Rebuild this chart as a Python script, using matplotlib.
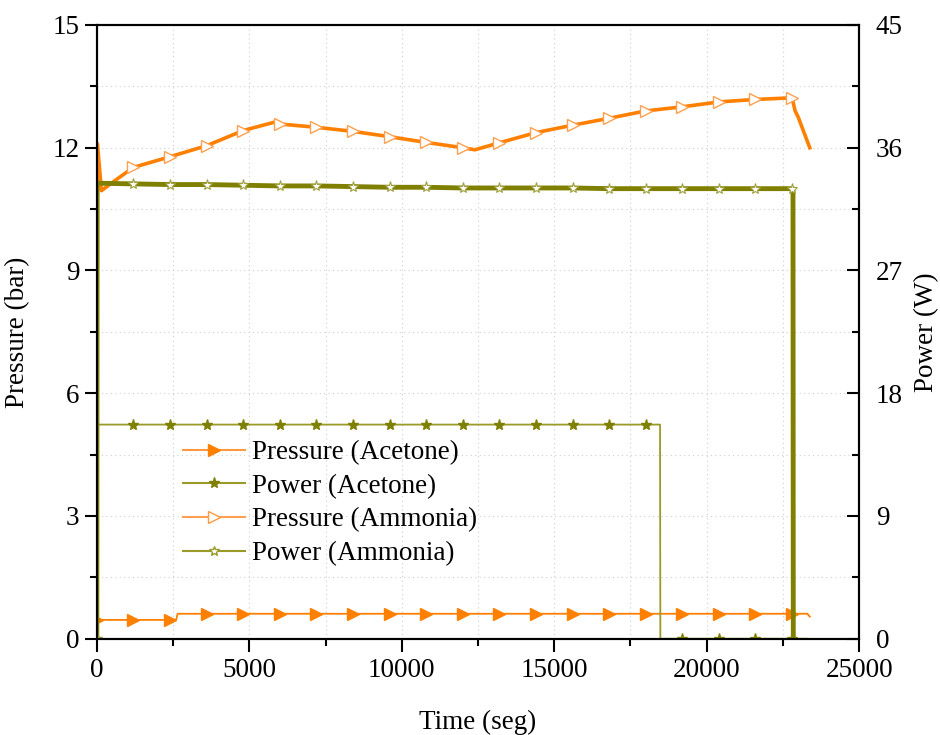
import matplotlib
matplotlib.use("Agg")
import matplotlib.pyplot as plt
from matplotlib.lines import Line2D
from matplotlib.ticker import MultipleLocator

plt.rcParams["font.family"] = ["Liberation Serif", "DejaVu Serif"]
plt.rcParams["font.size"] = 19.5

ORANGE = "#FF8000"
OLIVE = "#808000"

# Pressure (Acetone), bar
t_p_acetone = [0, 1200, 2400, 2600, 2650, 3600, 4800, 6000, 7200, 8400, 9600, 10800,
               12000, 13200, 14400, 15600, 16800, 18000, 19200, 20400, 21600, 22800,
               23300, 23380]
p_acetone = [0.46, 0.46, 0.46, 0.46, 0.61, 0.61, 0.61, 0.61, 0.61, 0.61, 0.61, 0.61,
             0.61, 0.61, 0.61, 0.61, 0.61, 0.61, 0.61, 0.61, 0.61, 0.61,
             0.61, 0.54]

# Pressure (Ammonia), bar
t_p_ammonia = [0, 20, 150, 600, 1200, 2400, 3600, 4800, 5800, 6000, 7200, 8400, 9600,
               10800, 12000, 12400, 13200, 14400, 15600, 16800, 18000, 19200, 20400,
               21600, 22800, 22900, 23000, 23380]
p_ammonia = [0.0, 12.1, 10.95, 11.2, 11.52, 11.78, 12.05, 12.42, 12.62, 12.58, 12.5,
             12.4, 12.27, 12.13, 12.0, 11.95, 12.12, 12.37, 12.55, 12.72, 12.9, 13.0,
             13.12, 13.18, 13.22, 12.9, 12.75, 12.0]

# Power (Acetone), W
t_w_acetone = [0, 10, 1200, 2400, 3600, 4800, 6000, 7200, 8400, 9600, 10800, 12000,
               13200, 14400, 15600, 16800, 18000, 18470, 18480, 19200, 20400, 21600,
               22800, 23300]
w_acetone = [0.0, 15.7, 15.7, 15.7, 15.7, 15.7, 15.7, 15.7, 15.7, 15.7, 15.7, 15.7,
             15.7, 15.7, 15.7, 15.7, 15.7, 15.7, 0.0, 0.0, 0.0, 0.0,
             0.0, 0.0]

# Power (Ammonia), W
t_w_ammonia = [0, 10, 1200, 2400, 3600, 4800, 6000, 7200, 8400, 9600, 10800, 12000,
               13200, 14400, 15600, 16800, 18000, 19200, 20400, 21600, 22800, 22830,
               22840]
w_ammonia = [0.0, 33.4, 33.35, 33.3, 33.3, 33.25, 33.2, 33.2, 33.15, 33.1, 33.1, 33.05,
             33.05, 33.05, 33.05, 33.0, 33.0, 33.0, 33.0, 33.0, 33.0, 33.0,
             0.0]

labels = ["Pressure (Acetone)", "Power (Acetone)", "Pressure (Ammonia)", "Power (Ammonia)"]


def marker_idx(times, step=1200):
    return [i for i, t in enumerate(times) if t % step == 0]


fig = plt.figure(figsize=(9.4, 7.35), dpi=100)
ax = fig.add_axes([0.103, 0.131, 0.811, 0.835])
ax2 = ax.twinx()

ax.plot(t_p_acetone, p_acetone, color=ORANGE, lw=1.3, marker=">", ms=9,
        mfc=ORANGE, mec=ORANGE, markevery=marker_idx(t_p_acetone))
ax.plot(t_p_ammonia, p_ammonia, color=ORANGE, lw=2.6, marker=">", ms=9,
        mfc="white", mec="#FFA050", mew=1.0, markevery=marker_idx(t_p_ammonia))
ax2.plot(t_w_acetone, w_acetone, color="#9A9A28", lw=1.3, marker="*", ms=8,
         mfc=OLIVE, mec=OLIVE, markevery=marker_idx(t_w_acetone))
ax2.plot(t_w_ammonia, w_ammonia, color=OLIVE, lw=3.5, marker="*", ms=8,
         mfc="white", mec="#A0A040", mew=0.8, markevery=marker_idx(t_w_ammonia))

ax.set_xlim(0, 25000)
ax.set_ylim(0, 15)
ax2.set_ylim(0, 45)

ax.xaxis.set_major_locator(MultipleLocator(5000))
ax.xaxis.set_minor_locator(MultipleLocator(2500))
ax.yaxis.set_major_locator(MultipleLocator(3))
ax.yaxis.set_minor_locator(MultipleLocator(1.5))
ax2.yaxis.set_major_locator(MultipleLocator(9))
ax2.yaxis.set_minor_locator(MultipleLocator(4.5))

ax.grid(which="both", linestyle=(0, (1, 3)), color="#cfcfcf", lw=0.8)
ax.set_axisbelow(True)

ax.tick_params(axis="both", which="major", direction="out", length=9, width=1.5,
               labelsize=19.5)
ax.tick_params(axis="both", which="minor", direction="out", length=5, width=1.5)
ax.tick_params(axis="x", which="major", pad=5)
ax2.tick_params(axis="y", which="major", direction="in", length=9, width=1.5,
                labelsize=19.5, pad=12)
ax2.tick_params(axis="y", which="minor", direction="in", length=5, width=1.5)

for a in (ax, ax2):
    for s in a.spines.values():
        s.set_linewidth(1.5)

ax.set_xlabel("Time (seg)", fontsize=19.5, labelpad=19)
ax.set_ylabel("Pressure (bar)", fontsize=19.5, labelpad=16)
ax2.set_ylabel("Power (W)", fontsize=19.5, rotation=90, labelpad=8)

# thin proxy handles for the legend
handles = [
    Line2D([], [], color="#FF9A40", lw=1.5, marker=">", ms=9, mfc=ORANGE, mec=ORANGE),
    Line2D([], [], color="#9A9A28", lw=1.5, marker="*", ms=8, mfc=OLIVE, mec=OLIVE),
    Line2D([], [], color="#FFA050", lw=1.5, marker=">", ms=9, mfc="white", mec="#FF9A40"),
    Line2D([], [], color="#9A9A28", lw=1.5, marker="*", ms=7, mfc="white", mec="#9A9A28"),
]
ax2.legend(handles, labels, loc="upper left", bbox_to_anchor=(183 / 940, 1 - 440 / 735),
           bbox_transform=fig.transFigure, frameon=False, fontsize=19.5,
           handlelength=2.3, handletextpad=0.25, labelspacing=0.32,
           borderpad=0, borderaxespad=0)

fig.savefig("out.png", dpi=100)
plt.close(fig)
